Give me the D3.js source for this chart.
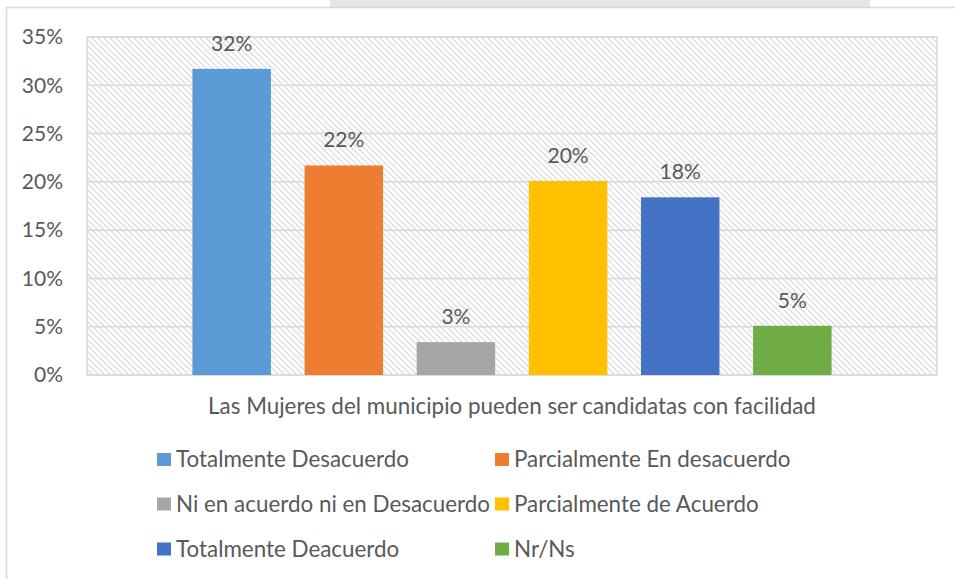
<!DOCTYPE html>
<html>
<head>
<meta charset="utf-8">
<script src="https://cdnjs.cloudflare.com/ajax/libs/d3/7.8.5/d3.min.js"></script>
<style>
  body { margin: 0; background: #fff; }
  text { font-family: Lato, "Open Sans", sans-serif; fill: #595959; }
</style>
</head>
<body>
<script>
// data
var categoryLabel = "Las Mujeres del municipio pueden ser candidatas con facilidad";
var seriesNames = ["Totalmente Desacuerdo", "Parcialmente En desacuerdo",
  "Ni en acuerdo ni en Desacuerdo", "Parcialmente de Acuerdo",
  "Totalmente Deacuerdo", "Nr/Ns"];
var seriesValues = [0.317, 0.217, 0.034, 0.201, 0.184, 0.051];
var seriesColors = ["#5B9BD5", "#ED7D31", "#A5A5A5", "#FFC000", "#4472C4", "#70AD47"];
var yTicks = [0, 0.05, 0.10, 0.15, 0.20, 0.25, 0.30, 0.35];

var w = 955;
var h = 579;
var plot = { left: 87, right: 937, top: 37, bottom: 375 };

var svg = d3.select("body")
    .append("svg")
    .attr("width", w)
    .attr("height", h);

// hatch pattern for plot background
var defs = svg.append("defs");
var pat = defs.append("pattern")
    .attr("id", "hatch")
    .attr("patternUnits", "userSpaceOnUse")
    .attr("width", 6)
    .attr("height", 6);
pat.append("rect").attr("width", 6).attr("height", 6).attr("fill", "#fff");
pat.append("path")
    .attr("d", "M-1,-1 L7,7 M-4,2 L1,7 M2,-4 L7,1")
    .attr("stroke", "#dcdcdc")
    .attr("stroke-width", 1.3);

// page bits round the chart
svg.append("rect")
    .attr("x", 330).attr("y", 0).attr("width", 540).attr("height", 7)
    .attr("fill", "#e6e6e6");
svg.append("path")
    .attr("d", "M6.5," + h + " V7.5 H" + w)
    .attr("fill", "none")
    .attr("stroke", "#d9d9d9")
    .attr("stroke-width", 1.5);

var x = d3.scaleBand()
    .domain(seriesNames)
    .range([plot.left, plot.right])
    .paddingInner(0.3)
    .paddingOuter(0.94);

var y = d3.scaleLinear()
    .domain([0, 0.35])
    .range([plot.bottom, plot.top]);

svg.append("rect")
    .attr("x", plot.left)
    .attr("y", plot.top)
    .attr("width", plot.right - plot.left)
    .attr("height", plot.bottom - plot.top)
    .attr("fill", "url(#hatch)");

// gridlines
svg.selectAll("line.grid")
    .data(yTicks)
    .enter()
    .append("line")
    .attr("class", "grid")
    .attr("x1", plot.left)
    .attr("x2", plot.right)
    .attr("y1", function (d) { return y(d); })
    .attr("y2", function (d) { return y(d); })
    .attr("stroke", "#d9d9d9")
    .attr("stroke-width", 1.5);

svg.append("rect")
    .attr("x", plot.left)
    .attr("y", plot.top)
    .attr("width", plot.right - plot.left)
    .attr("height", plot.bottom - plot.top)
    .attr("fill", "none")
    .attr("stroke", "#d9d9d9")
    .attr("stroke-width", 1.5);

// y axis
var yAxis = d3.axisLeft(y)
    .tickValues(yTicks)
    .tickFormat(d3.format(".0%"))
    .tickSize(0)
    .tickPadding(24);
var gy = svg.append("g")
    .attr("transform", "translate(" + plot.left + ",0)")
    .call(yAxis);
gy.select(".domain").remove();
gy.selectAll("text")
    .attr("font-size", "21px")
    .attr("font-family", "Lato, sans-serif")
    .attr("fill", "#595959");

// bars
svg.selectAll("rect.bar")
    .data(seriesValues)
    .enter()
    .append("rect")
    .attr("class", "bar")
    .attr("x", function (d, i) { return x(seriesNames[i]); })
    .attr("y", function (d) { return y(d); })
    .attr("width", x.bandwidth())
    .attr("height", function (d) { return y(0) - y(d); })
    .attr("fill", function (d, i) { return seriesColors[i]; });

// data labels
svg.selectAll("text.val")
    .data(seriesValues)
    .enter()
    .append("text")
    .attr("class", "val")
    .text(function (d) { return Math.round(d * 100) + "%"; })
    .attr("text-anchor", "middle")
    .attr("x", function (d, i) { return x(seriesNames[i]) + x.bandwidth() / 2; })
    .attr("y", function (d) { return y(d) - 18; })
    .attr("font-size", "21px");

// category label
svg.append("text")
    .text(categoryLabel)
    .attr("text-anchor", "middle")
    .attr("x", (plot.left + plot.right) / 2)
    .attr("y", 414)
    .attr("font-size", "22.4px");

// legend, two columns
var legCols = [157, 495];
var legRows = [459.5, 504, 549];
var leg = svg.selectAll("g.leg")
    .data(seriesNames)
    .enter()
    .append("g")
    .attr("class", "leg")
    .attr("transform", function (d, i) {
        return "translate(" + legCols[i % 2] + "," + legRows[Math.floor(i / 2)] + ")";
    });
leg.append("rect")
    .attr("x", 0)
    .attr("y", -6.5)
    .attr("width", 14)
    .attr("height", 13)
    .attr("fill", function (d, i) { return seriesColors[i]; });
leg.append("text")
    .text(function (d) { return d; })
    .attr("x", 19)
    .attr("y", 7.5)
    .attr("font-size", "22.4px");
</script>
</body>
</html>
